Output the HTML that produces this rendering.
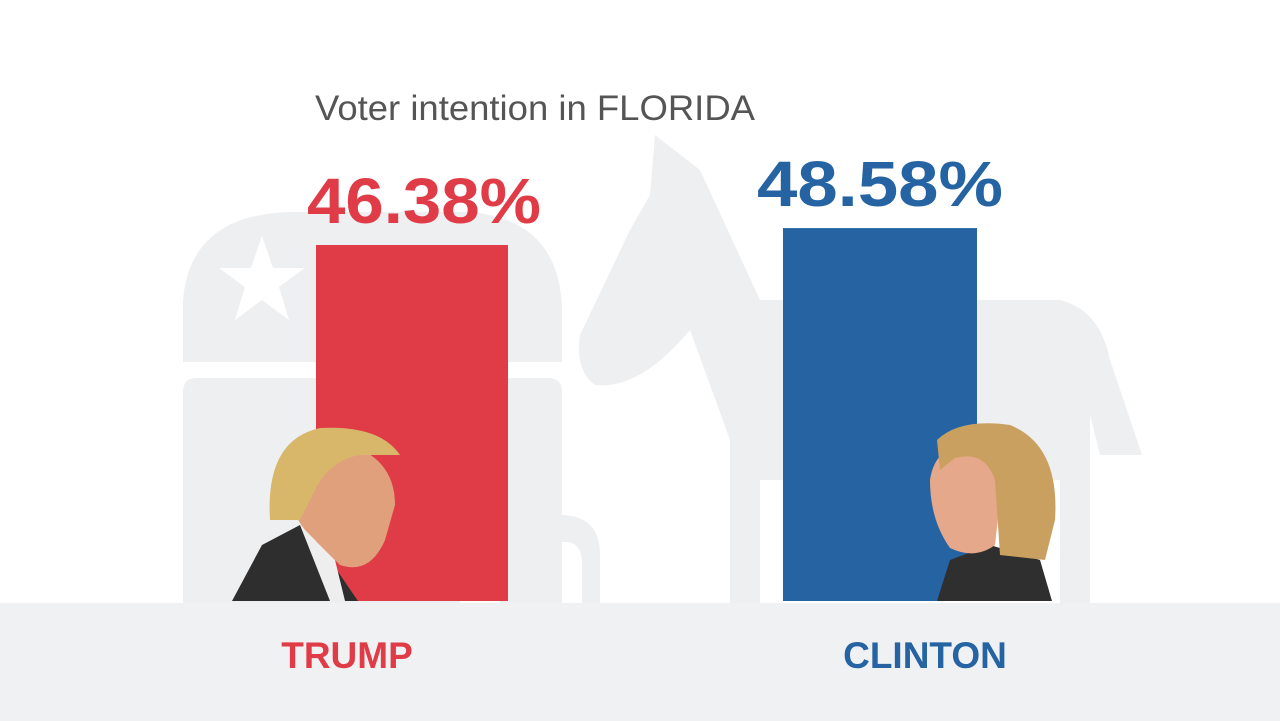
<!DOCTYPE html>
<html><head><meta charset="utf-8"><style>
html,body{margin:0;padding:0;background:#fff;}
#wrap{position:relative;width:1280px;height:721px;overflow:hidden;font-family:"Liberation Sans",sans-serif;}
</style></head><body>
<div id="wrap">
<svg id="chart" width="1280" height="721" viewBox="0 0 1280 721">
<rect x="0" y="603" width="1280" height="118" fill="#f0f1f3"/>
<g fill="#eeeff1">
<path d="M183,362 L183,300 Q190,215 290,212 L470,212 Q560,220 562,310 L562,362 Z"/>
<path d="M183,603 L183,392 Q183,378 197,378 L548,378 Q562,378 562,392 L562,603 L500,603 L500,520 L460,520 L460,603 Z"/>
<path d="M522,603 Q522,518 560,515 Q600,515 600,555 L600,603 L582,603 L582,560 Q580,540 562,542 Q545,545 545,603 Z"/>
<path d="M655,135 L700,170 L760,300 L1060,300 Q1100,310 1110,360 L1142,455 L1100,455 L1090,415 L1090,603 L1060,603 L1060,480 L760,480 L760,603 L730,603 L730,440 L690,330 Q640,390 595,385 Q575,370 580,335 L630,230 L650,195 Z"/>
</g>
<g fill="#fff">
<polygon points="262,236 273,268 305,268 279,287 289,320 262,300 235,320 245,287 219,268 251,268"/>
</g>
<text x="315" y="120" font-size="35" textLength="440" lengthAdjust="spacingAndGlyphs" fill="#555">Voter intention in FLORIDA</text>
<g id="bars"></g>
</svg>
</div>
<script>
const categories = ["TRUMP", "CLINTON"];
const values = [46.38, 48.58];
const valueLabels = ["46.38%", "48.58%"];
const colors = ["#e03c48", "#2563a3"];
const baseY = 601, pxPerUnit = 7.676;
const barX = [316, 783], barW = [192, 194];
const labelCx = [424, 880], labelW = [234, 246];
const nameX = [347, 925];
function y(v){ return baseY - v * pxPerUnit; }
const ns = "http://www.w3.org/2000/svg";
const g = document.getElementById('bars');
categories.forEach((c, i) => {
  const r = document.createElementNS(ns, 'rect');
  r.setAttribute('x', barX[i]); r.setAttribute('y', y(values[i]));
  r.setAttribute('width', barW[i]); r.setAttribute('height', baseY - y(values[i]));
  r.setAttribute('fill', colors[i]);
  
  
  g.appendChild(r);
  const t = document.createElementNS(ns, 'text');
  t.setAttribute('x', labelCx[i] - labelW[i] / 2); t.setAttribute('y', y(values[i]) - 22);
  t.setAttribute('font-size', '64');
  t.setAttribute('textLength', labelW[i]); t.setAttribute('lengthAdjust', 'spacingAndGlyphs');
  t.setAttribute('font-weight', 'bold'); t.setAttribute('fill', colors[i]);
  t.textContent = valueLabels[i];
  
  
  g.appendChild(t);
  const n = document.createElementNS(ns, 'text');
  n.setAttribute('x', nameX[i]); n.setAttribute('y', 668);
  n.setAttribute('text-anchor', 'middle'); n.setAttribute('font-size', '37');
  n.setAttribute('font-weight', 'bold'); n.setAttribute('fill', colors[i]);
  n.textContent = c;
  
  
  g.appendChild(n);
});
const portraits = `
<g>
<path d="M232,601 L262,545 L300,525 L330,560 L358,601 Z" fill="#2e2e2e"/>
<path d="M300,525 L335,560 L345,601 L330,601 Z" fill="#eee"/>
<path d="M290,470 Q300,440 350,445 Q395,460 395,505 L385,540 Q370,575 340,565 L305,530 Q285,505 290,470 Z" fill="#e0a07c"/>
<path d="M270,520 Q265,440 320,428 Q380,425 400,455 L360,455 Q330,460 315,490 L300,520 Z" fill="#d8b66a"/>
</g>
<g>
<path d="M937,601 L950,560 L990,545 L1040,560 L1052,601 Z" fill="#2f2f2f"/>
<path d="M930,480 Q935,445 970,445 Q1000,455 1000,500 L995,545 Q975,560 950,548 Q930,520 930,480 Z" fill="#e6a88a"/>
<path d="M937,440 Q960,418 1010,425 Q1060,445 1055,520 L1045,560 L1000,555 L995,480 Q985,450 955,458 L940,470 Z" fill="#caa060"/>
</g>`;
g.insertAdjacentHTML('beforeend', portraits);
</script>
</body></html>
